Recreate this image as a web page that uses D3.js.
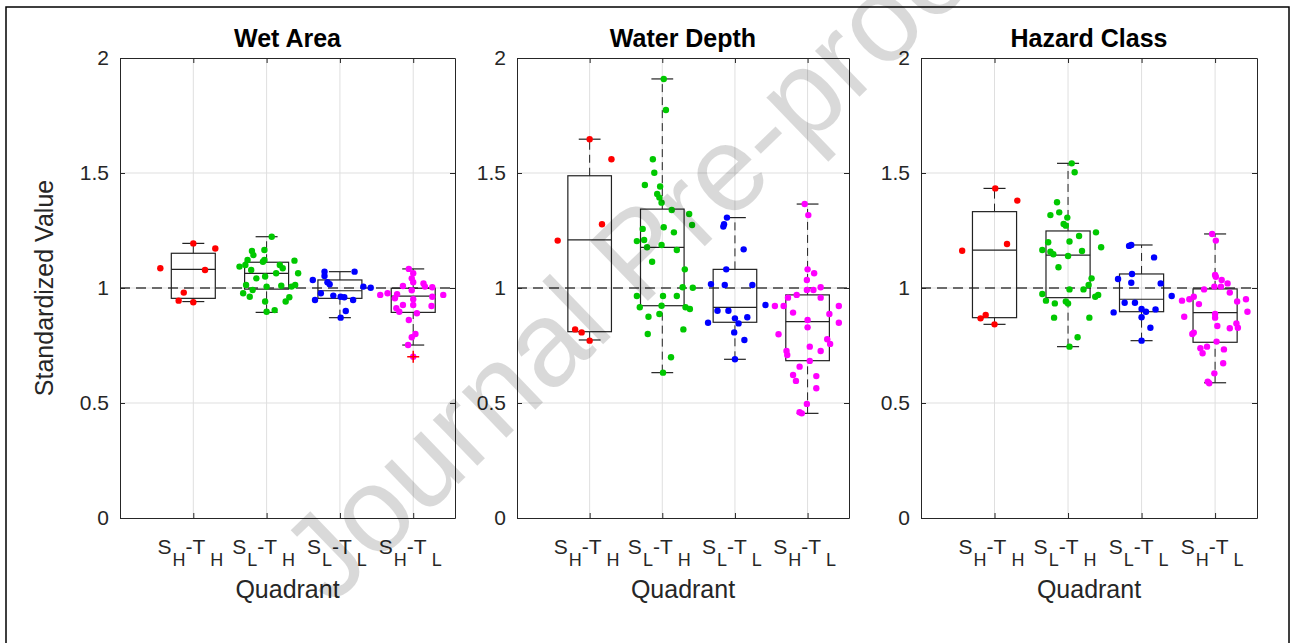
<!DOCTYPE html>
<html>
<head>
<meta charset="utf-8">
<script src="https://cdnjs.cloudflare.com/ajax/libs/d3/7.8.5/d3.min.js"></script>
<style>
  body { margin: 0; background: #fff; }
  svg text { font-family: "Liberation Sans", Arial, sans-serif; }
</style>
</head>
<body>
<div id="chart"></div>
<script>
const panelTitles = ["Wet Area", "Water Depth", "Hazard Class"];
const quadrants = ["S_H-T_H", "S_L-T_H", "S_L-T_L", "S_H-T_L"];
const yTicks = [0, 0.5, 1, 1.5, 2];
const groupColors = ["#ff0000", "#00c800", "#0000ff", "#ff00ff"];

// box stats per quadrant: [lower whisker, q1, median, q3, upper whisker]
const wetAreaBox = [[0.941, 0.955, 1.081, 1.151, 1.194], [0.894, 0.995, 1.064, 1.112, 1.223], [0.871, 0.955, 0.988, 1.035, 1.071], [0.752, 0.894, 0.965, 0.999, 1.083]];
const waterDepthBox = [[0.774, 0.810, 1.209, 1.488, 1.647], [0.632, 0.923, 1.177, 1.343, 1.909], [0.690, 0.851, 0.916, 1.081, 1.306], [0.455, 0.684, 0.854, 0.970, 1.365]];
const hazardBox = [[0.842, 0.871, 1.165, 1.332, 1.433], [0.745, 0.958, 1.143, 1.248, 1.542], [0.771, 0.897, 0.951, 1.061, 1.187], [0.588, 0.764, 0.893, 0.996, 1.235]];

// outliers: [quadrant number, value]
const wetAreaOutliers = [[4, 0.701]];
const waterDepthOutliers = [];
const hazardOutliers = [];

// scattered points per quadrant: [jitter (category units), value]
const wetAreaPts = [
  [[-0.45, 1.086], [0.00, 1.194], [0.30, 1.172], [0.16, 1.078], [-0.13, 0.980], [-0.20, 0.945], [0.00, 0.938]],
  [[0.07, 1.223], [-0.03, 1.165], [-0.20, 1.161], [-0.18, 1.143], [-0.26, 1.122], [-0.03, 1.122], [-0.05, 1.114], [-0.37, 1.093], [-0.29, 1.100], [0.18, 1.100], [0.38, 1.119], [0.22, 1.086], [-0.21, 1.078], [0.13, 1.064], [0.43, 1.064], [-0.14, 1.042], [-0.02, 1.050], [-0.28, 1.013], [0.00, 1.006], [0.20, 1.010], [0.34, 1.006], [0.39, 1.013], [-0.19, 0.991], [-0.32, 0.977], [-0.23, 0.962], [0.31, 0.960], [0.26, 0.941], [-0.02, 0.941], [0.11, 0.904], [0.00, 0.897]],
  [[-0.21, 1.071], [0.20, 1.071], [-0.21, 1.052], [-0.37, 1.035], [-0.17, 1.025], [-0.14, 1.016], [0.32, 1.006], [0.42, 1.001], [-0.26, 0.977], [-0.09, 0.967], [0.01, 0.962], [0.06, 0.960], [0.18, 0.948], [-0.34, 0.948], [0.08, 0.900], [0.01, 0.871]],
  [[-0.06, 1.083], [0.00, 1.064], [-0.02, 1.042], [0.00, 1.025], [-0.14, 1.009], [0.14, 1.020], [0.16, 1.006], [0.26, 1.003], [-0.45, 0.970], [-0.35, 0.977], [-0.22, 0.973], [0.41, 0.970], [-0.02, 0.990], [-0.25, 0.955], [0.00, 0.951], [0.26, 0.962], [0.25, 0.922], [-0.14, 0.926], [0.00, 0.926], [-0.23, 0.912], [-0.19, 0.897], [0.05, 0.890], [-0.06, 0.861], [0.03, 0.800], [-0.02, 0.786], [-0.07, 0.752], [0.00, 0.701]]
];
const waterDepthPts = [
  [[0.00, 1.647], [0.30, 1.560], [0.17, 1.277], [-0.44, 1.206], [-0.20, 0.820], [-0.11, 0.807], [0.00, 0.771]],
  [[0.02, 1.909], [0.05, 1.774], [-0.13, 1.560], [-0.11, 1.501], [-0.24, 1.448], [-0.03, 1.441], [-0.07, 1.409], [-0.04, 1.393], [-0.01, 1.371], [0.13, 1.339], [0.37, 1.322], [0.41, 1.274], [-0.27, 1.257], [0.02, 1.264], [0.16, 1.242], [-0.35, 1.204], [-0.25, 1.209], [-0.21, 1.177], [-0.01, 1.187], [0.20, 1.165], [-0.14, 1.114], [0.31, 1.081], [0.28, 1.003], [0.42, 1.001], [-0.35, 0.965], [0.01, 0.965], [0.20, 0.965], [-0.31, 0.916], [-0.01, 0.923], [0.32, 0.916], [0.38, 0.909], [-0.04, 0.887], [-0.19, 0.875], [0.29, 0.820], [-0.20, 0.800], [0.12, 0.699], [0.01, 0.632]],
  [[-0.11, 1.306], [-0.16, 1.267], [-0.15, 1.277], [0.12, 1.168], [-0.12, 1.081], [-0.33, 1.017], [-0.14, 1.013], [0.24, 1.013], [-0.24, 0.901], [-0.09, 0.901], [0.00, 0.868], [0.05, 0.846], [0.17, 0.873], [-0.37, 0.849], [-0.01, 0.807], [0.13, 0.774], [0.00, 0.690], [0.42, 0.926]],
  [[-0.04, 1.365], [0.01, 1.317], [0.00, 1.081], [0.09, 1.064], [-0.01, 1.035], [-0.01, 0.991], [0.08, 0.991], [0.18, 1.003], [-0.15, 0.970], [-0.27, 0.958], [0.18, 0.958], [-0.45, 0.922], [-0.33, 0.922], [0.43, 0.922], [-0.20, 0.893], [0.30, 0.887], [0.00, 0.861], [0.43, 0.849], [0.00, 0.829], [-0.40, 0.799], [0.27, 0.777], [0.31, 0.757], [0.03, 0.745], [-0.29, 0.726], [-0.28, 0.709], [0.18, 0.726], [0.03, 0.683], [-0.11, 0.658], [-0.20, 0.622], [-0.16, 0.596], [0.12, 0.617], [0.12, 0.564], [-0.01, 0.496], [-0.11, 0.460], [-0.08, 0.455]]
];
const hazardPts = [
  [[0.01, 1.433], [0.31, 1.380], [0.17, 1.191], [-0.44, 1.162], [-0.19, 0.868], [-0.12, 0.883], [0.00, 0.842]],
  [[0.05, 1.542], [0.09, 1.503], [-0.15, 1.373], [-0.24, 1.317], [-0.12, 1.329], [-0.01, 1.306], [-0.06, 1.278], [-0.03, 1.271], [0.38, 1.242], [0.15, 1.226], [-0.27, 1.199], [0.02, 1.202], [-0.35, 1.165], [-0.24, 1.158], [-0.20, 1.147], [0.19, 1.161], [0.00, 1.139], [0.45, 1.177], [-0.13, 1.090], [0.32, 1.042], [0.02, 0.994], [0.21, 0.994], [0.28, 1.013], [-0.35, 0.974], [0.37, 0.962], [0.41, 0.970], [-0.30, 0.945], [-0.18, 0.933], [-0.03, 0.941], [0.00, 0.933], [-0.19, 0.871], [0.29, 0.871], [0.13, 0.786], [0.02, 0.745]],
  [[-0.17, 1.183], [-0.14, 1.187], [0.17, 1.133], [-0.13, 1.061], [-0.32, 1.039], [-0.14, 1.023], [0.26, 1.020], [0.41, 0.965], [-0.38, 0.894], [-0.23, 0.936], [-0.09, 0.936], [0.00, 0.909], [0.06, 0.897], [0.19, 0.907], [0.00, 0.873], [0.12, 0.827], [0.00, 0.771]],
  [[-0.04, 1.235], [0.01, 1.206], [0.00, 1.057], [0.01, 1.049], [0.09, 1.035], [0.17, 1.020], [-0.01, 1.006], [0.08, 1.006], [-0.15, 0.994], [0.20, 0.980], [-0.29, 0.962], [-0.45, 0.945], [-0.35, 0.951], [0.42, 0.951], [-0.22, 0.930], [0.30, 0.941], [0.44, 0.897], [0.00, 0.887], [0.00, 0.871], [-0.42, 0.875], [0.03, 0.835], [0.20, 0.825], [0.29, 0.846], [0.31, 0.827], [-0.29, 0.806], [-0.31, 0.800], [0.02, 0.767], [-0.20, 0.738], [-0.11, 0.745], [0.12, 0.733], [-0.17, 0.716], [0.11, 0.673], [-0.01, 0.629], [-0.10, 0.593], [-0.08, 0.586]]
];

const panelPts = [wetAreaPts, waterDepthPts, hazardPts];
const panelBoxes = [wetAreaBox, waterDepthBox, hazardBox];
const panelOutliers = [wetAreaOutliers, waterDepthOutliers, hazardOutliers];

const width = 1295;
const height = 643;
const panelLeft = [120, 517, 921];
const panelRight = [455, 849, 1257];
const plotTop = 58;
const plotBottom = 518;
const axisColor = "#262626";

const svg = d3.select('#chart')
  .append('svg')
  .attr('width', width)
  .attr('height', height);

svg.append('rect')
  .attr('width', width)
  .attr('height', height)
  .attr('fill', '#fff');

// quadrant tick label with subscripts
function quadLabel(text, str) {
  const m = str.match(/S_(\w)-T_(\w)/);
  text.append('tspan').text('S');
  text.append('tspan').attr('dy', 12).attr('dx', 1).attr('font-size', 18).text(m[1]);
  text.append('tspan').attr('dy', -12).text('-T');
  text.append('tspan').attr('dy', 12).attr('dx', 5).attr('font-size', 18).text(m[2]);
}

panelTitles.forEach((title, p) => {
  const x = d3.scaleLinear().domain([0, 4.57]).range([panelLeft[p], panelRight[p]]);
  const y = d3.scaleLinear().domain([0, 2]).range([plotBottom, plotTop]);
  const g = svg.append('g');
  const cats = quadrants.map((q, i) => i + 1);

  // grid
  g.selectAll('.gridx')
    .data(cats)
    .enter()
    .append('line')
    .attr('x1', d => x(d)).attr('x2', d => x(d))
    .attr('y1', plotTop).attr('y2', plotBottom)
    .attr('stroke', '#dfdfdf').attr('stroke-width', 1);

  g.selectAll('.gridy')
    .data(yTicks.slice(1, -1))
    .enter()
    .append('line')
    .attr('x1', panelLeft[p]).attr('x2', panelRight[p])
    .attr('y1', d => y(d)).attr('y2', d => y(d))
    .attr('stroke', '#dfdfdf').attr('stroke-width', 1);

  // reference line at 1
  g.append('line')
    .attr('x1', panelLeft[p]).attr('x2', panelRight[p])
    .attr('y1', y(1)).attr('y2', y(1))
    .attr('stroke', '#404040').attr('stroke-width', 1.3)
    .attr('stroke-dasharray', '10,6');

  // boxplots
  const boxW = x(0.3) - x(0);
  const capW = x(0.15) - x(0);
  const boxes = g.selectAll('.box')
    .data(panelBoxes[p])
    .enter()
    .append('g');

  boxes.append('line')
    .attr('x1', (d, i) => x(i + 1)).attr('x2', (d, i) => x(i + 1))
    .attr('y1', d => y(d[3])).attr('y2', d => y(d[4]))
    .attr('stroke', '#222').attr('stroke-dasharray', '8,5');
  boxes.append('line')
    .attr('x1', (d, i) => x(i + 1)).attr('x2', (d, i) => x(i + 1))
    .attr('y1', d => y(d[0])).attr('y2', d => y(d[1]))
    .attr('stroke', '#222').attr('stroke-dasharray', '8,5');
  [0, 4].forEach(k => {
    boxes.append('line')
      .attr('x1', (d, i) => x(i + 1) - capW).attr('x2', (d, i) => x(i + 1) + capW)
      .attr('y1', d => y(d[k])).attr('y2', d => y(d[k]))
      .attr('stroke', '#222').attr('stroke-width', 1.2);
  });
  boxes.append('rect')
    .attr('x', (d, i) => x(i + 1) - boxW)
    .attr('width', boxW * 2)
    .attr('y', d => y(d[3]))
    .attr('height', d => y(d[1]) - y(d[3]))
    .attr('fill', 'none')
    .attr('stroke', '#222').attr('stroke-width', 1.2);
  boxes.append('line')
    .attr('x1', (d, i) => x(i + 1) - boxW).attr('x2', (d, i) => x(i + 1) + boxW)
    .attr('y1', d => y(d[2])).attr('y2', d => y(d[2]))
    .attr('stroke', '#222').attr('stroke-width', 1.2);

  // points
  panelPts[p].forEach((grp, i) => {
    g.selectAll('.pt' + i)
      .data(grp)
      .enter()
      .append('circle')
      .attr('cx', d => x(i + 1 + d[0]))
      .attr('cy', d => y(d[1]))
      .attr('r', 3.2)
      .attr('fill', groupColors[i]);
  });

  // outliers
  panelOutliers[p].forEach(o => {
    const cx = x(o[0]), cy = y(o[1]);
    g.append('path')
      .attr('d', `M${cx - 6},${cy}H${cx + 6}M${cx},${cy - 6}V${cy + 6}`)
      .attr('stroke', '#ff0000').attr('stroke-width', 1.5);
  });

  // axes
  const yAxis = g.append('g')
    .attr('transform', `translate(${panelLeft[p]},0)`)
    .call(d3.axisLeft(y).tickValues(yTicks).tickSize(-5).tickSizeOuter(0).tickPadding(11).tickFormat(d3.format('~g')));
  g.append('g')
    .attr('transform', `translate(${panelRight[p]},0)`)
    .call(d3.axisRight(y).tickValues(yTicks).tickSize(-5).tickSizeOuter(0).tickFormat(''));
  g.append('g')
    .attr('transform', `translate(0,${plotBottom})`)
    .call(d3.axisBottom(x).tickValues(cats).tickSize(-5).tickSizeOuter(0).tickFormat(''));
  g.append('g')
    .attr('transform', `translate(0,${plotTop})`)
    .call(d3.axisTop(x).tickValues(cats).tickSize(-5).tickSizeOuter(0).tickFormat(''));

  g.selectAll('.domain, .tick line').attr('stroke', axisColor);
  yAxis.selectAll('text')
    .attr('font-size', 21)
    .attr('fill', axisColor)
    .style('font-family', '"Liberation Sans", Arial, sans-serif');

  // quadrant labels
  g.selectAll('.qlabel')
    .data(quadrants)
    .enter()
    .append('text')
    .attr('x', (d, i) => x(i + 1) - 3)
    .attr('y', 554)
    .attr('text-anchor', 'middle')
    .attr('font-size', 21)
    .attr('fill', axisColor)
    .each(function (d) { quadLabel(d3.select(this), d); });

  g.append('text')
    .attr('x', (panelLeft[p] + panelRight[p]) / 2)
    .attr('y', 598)
    .attr('text-anchor', 'middle')
    .attr('font-size', 25)
    .attr('fill', axisColor)
    .text('Quadrant');

  g.append('text')
    .attr('x', (panelLeft[p] + panelRight[p]) / 2)
    .attr('y', 47)
    .attr('text-anchor', 'middle')
    .attr('font-size', 25)
    .attr('font-weight', 'bold')
    .attr('fill', '#000')
    .text(title);

  if (p === 0) {
    g.append('text')
      .attr('transform', `translate(53,${(plotTop + plotBottom) / 2}) rotate(-90)`)
      .attr('text-anchor', 'middle')
      .attr('font-size', 25)
      .attr('fill', axisColor)
      .text('Standardized Value');
  }
});

// watermark
svg.append('text')
  .attr('transform', 'translate(331,607) rotate(-44)')
  .attr('font-size', 121)
  .attr('fill', '#000')
  .attr('fill-opacity', 0.15)
  .text('Journal Pre-proof');

// outer frame
svg.append('rect')
  .attr('x', 6).attr('y', 7)
  .attr('width', 1283).attr('height', 660)
  .attr('fill', 'none')
  .attr('stroke', '#000')
  .attr('stroke-width', 1.5);
</script>
</body>
</html>
